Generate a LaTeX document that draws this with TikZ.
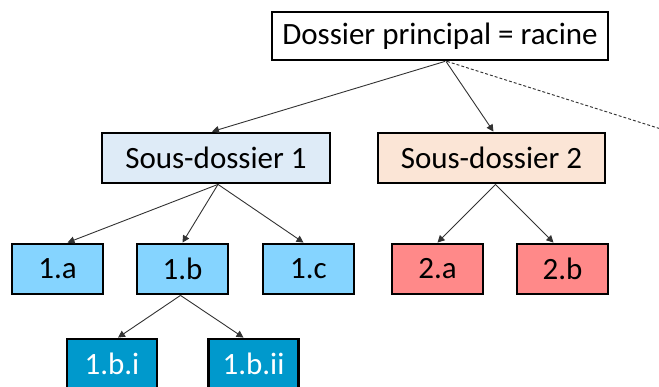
\documentclass[tikz,border=0pt]{standalone}
\usepackage{fontspec}
\setmainfont{Carlito}
\usetikzlibrary{arrows.meta}
\definecolor{sdone}{RGB}{222,235,247}
\definecolor{sdtwo}{RGB}{251,229,214}
\definecolor{lblue}{RGB}{133,212,255}
\definecolor{lred}{RGB}{255,137,137}
\definecolor{dblue}{RGB}{0,153,204}
\definecolor{conn}{RGB}{50,50,50}
\begin{document}
\begin{tikzpicture}[x=1pt,y=-1pt,
  box/.style={draw=black,line width=2.8pt,inner sep=0pt,font=\fontsize{31}{36}\selectfont},
  big/.style={box,minimum height=48pt},
  small/.style={box,minimum width=91pt,minimum height=50pt},
  link/.style={draw=conn,line width=0.9pt,-{Triangle[length=7pt,width=7pt]}},
  dlink/.style={draw=conn,line width=0.9pt,dashed,dash pattern=on 3pt off 2pt}]
\useasboundingbox (0,0) rectangle (659,387);
\node[big,minimum width=336pt,fill=white] (root) at (440,36) {Dossier principal = racine};
\node[big,minimum width=228pt,minimum height=50pt,fill=sdone] (sd1) at (216,158) {Sous-dossier 1};
\node[big,minimum width=227pt,minimum height=50pt,fill=sdtwo] (sd2) at (491.5,158) {Sous-dossier 2};
\node[small,fill=lblue] (a1) at (57.5,269) {1.a};
\node[small,fill=lblue] (b1) at (182.5,269) {1.b};
\node[small,fill=lblue] (c1) at (308.5,269) {1.c};
\node[small,fill=lred] (a2) at (437.5,269) {2.a};
\node[small,fill=lred] (b2) at (562.5,269) {2.b};
\node[small,minimum width=90pt,fill=dblue,text=white] (bi) at (112,364) {1.b.i};
\node[small,minimum width=90pt,fill=dblue,text=white] (bii) at (253.5,364) {1.b.ii};
\coordinate (off) at (680,135);
\draw[link] ([xshift=5pt]root.south) -- ([xshift=-4pt]sd1.north);
\draw[link] ([xshift=6pt]root.south) -- ([xshift=2pt]sd2.north);
\draw[dlink] ([xshift=7pt]root.south) -- (off);
\draw[link] ([xshift=2pt]sd1.south) -- ([xshift=10pt]a1.north);
\draw[link] ([xshift=2pt]sd1.south) -- (b1.north);
\draw[link] ([xshift=2pt]sd1.south) -- ([xshift=-5pt]c1.north);
\draw[link] ([xshift=4pt]sd2.south) -- (a2.north);
\draw[link] ([xshift=4pt]sd2.south) -- ([xshift=-9pt]b2.north);
\draw[link] ([xshift=-2pt]b1.south) -- ([xshift=6pt]bi.north);
\draw[link] ([xshift=-2pt]b1.south) -- ([xshift=-10pt]bii.north);
\end{tikzpicture}
\end{document}
